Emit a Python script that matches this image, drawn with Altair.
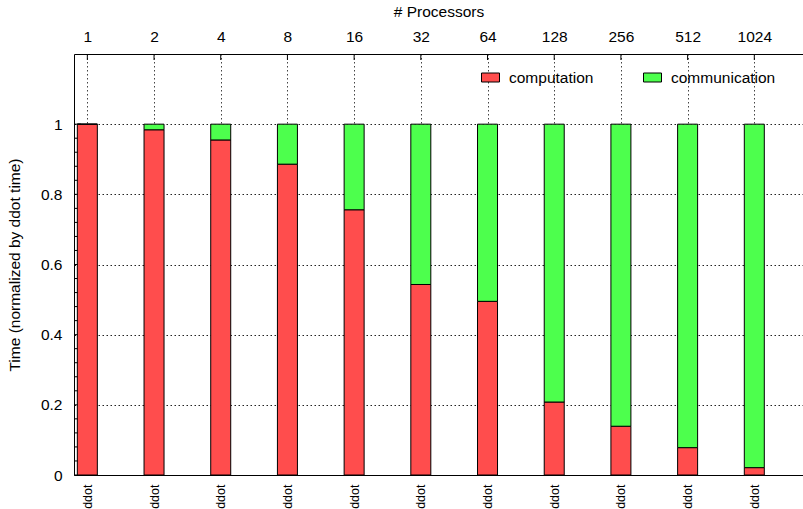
import altair as alt
import pandas as pd

# Processor counts along the top axis, benchmark names along the bottom
processors = ["1", "2", "4", "8", "16", "32", "64", "128", "256", "512", "1024"]
benchmarks = ["ddot"] * 11

# Normalized time split (fraction of total ddot time)
computation = [1.000, 0.984, 0.955, 0.886, 0.756, 0.543, 0.495, 0.208, 0.139, 0.078, 0.021]
communication = [0.000, 0.016, 0.045, 0.114, 0.244, 0.457, 0.505, 0.792, 0.861, 0.922, 0.979]

series = ["computation", "communication"]
colors = ["#ff4d4d", "#4dff4d"]

major_ticks = [0, 0.2, 0.4, 0.6, 0.8, 1.0]
minor_ticks = [0.04, 0.08, 0.12, 0.16, 0.24, 0.28, 0.32, 0.36, 0.44, 0.48, 0.52, 0.56,
               0.64, 0.68, 0.72, 0.76, 0.84, 0.88, 0.92, 0.96]

FONT = "Liberation Sans"
FS = 15.5

rows = []
for i in range(len(processors)):
    rows.append({"idx": i, "series": "computation", "order": 0, "time": computation[i]})
    rows.append({"idx": i, "series": "communication", "order": 1, "time": communication[i]})
df = pd.DataFrame(rows)
positions = pd.DataFrame({"idx": list(range(len(processors)))})

idx_values = list(range(len(processors)))
top_expr = "[" + ",".join(f"'{p}'" for p in processors) + "][datum.value]"
bottom_expr = "[" + ",".join(f"'{b}'" for b in benchmarks) + "][datum.value]"

xscale = alt.Scale(domain=[-0.2, 10.73], nice=False, zero=False, padding=0)
yscale = alt.Scale(domain=[0, 1.2], nice=False)

bars = alt.Chart(df).mark_bar(size=20, stroke="black", strokeWidth=1).encode(
    x=alt.X(
        "idx:Q",
        scale=xscale,
        axis=alt.Axis(
            orient="top", values=idx_values, labelExpr=top_expr, title="# Processors",
            grid=True, gridDash=[1.5, 2.5], gridColor="#444", gridWidth=1,
            ticks=False, domainColor="black", labelPadding=10, titlePadding=10,
        ),
    ),
    y=alt.Y(
        "time:Q",
        stack="zero",
        scale=yscale,
        axis=alt.Axis(
            values=major_ticks, format="~g", title="Time (normalized by ddot time)",
            grid=True, gridDash=[1.5, 2.5], gridColor="#222", gridWidth=1,
            ticks=False, domainColor="black", labelPadding=12, titlePadding=18,
        ),
    ),
    fill=alt.Fill(
        "series:N",
        scale=alt.Scale(domain=series, range=colors),
        legend=alt.Legend(
            orient="none", legendX=407, legendY=14, direction="horizontal", title=None,
            symbolType="M-1,-0.5L1,-0.5L1,0.5L-1,0.5Z", symbolSize=324,
            symbolStrokeColor="black", symbolStrokeWidth=1, symbolOpacity=1,
            labelOffset=9, columnPadding=47, labelFont=FONT, labelFontSize=FS,
            labelColor="black",
        ),
    ),
    order=alt.Order("order:Q"),
)

# Inward ticks on the left axis
major_rules = alt.Chart(pd.DataFrame({"tick": major_ticks})).mark_rule(color="black").encode(
    x=alt.value(0), x2=alt.value(7), y=alt.Y("tick:Q", scale=yscale, axis=None)
)
minor_rules = alt.Chart(pd.DataFrame({"tick": minor_ticks})).mark_rule(color="black").encode(
    x=alt.value(0), x2=alt.value(4), y=alt.Y("tick:Q", scale=yscale, axis=None)
)

# Inward ticks on the top axis
top_rules = alt.Chart(positions).mark_rule(color="black").encode(
    x=alt.X("idx:Q", scale=xscale, axis=None), y=alt.value(0), y2=alt.value(6)
)

# Bottom axis carrying the benchmark names
bottom_axis = alt.Chart(positions).mark_point(opacity=0).encode(
    x=alt.X(
        "idx:Q",
        scale=xscale,
        axis=alt.Axis(
            orient="bottom", values=idx_values, labelExpr=bottom_expr, title=None,
            labelAngle=270, labelAlign="right", labelBaseline="middle",
            labelFontSize=12.5, grid=False, ticks=False, domainColor="black",
            labelPadding=9,
        ),
    ),
    y=alt.value(0),
)

chart = (
    alt.layer(major_rules, minor_rules, bars, top_rules, bottom_axis)
    .resolve_axis(x="independent", y="independent")
    .properties(
        width=729,
        height=421,
        padding={"left": 74, "top": 54, "right": 0, "bottom": 34},
        autosize=alt.AutoSizeParams(type="none"),
    )
    .configure_view(stroke=None)
    .configure_axis(
        labelFont=FONT, labelFontSize=FS, labelColor="black",
        titleFont=FONT, titleFontSize=FS, titleFontWeight="normal", titleColor="black",
    )
)

chart.save("out.html", embed_options={"renderer": "svg", "actions": False})
